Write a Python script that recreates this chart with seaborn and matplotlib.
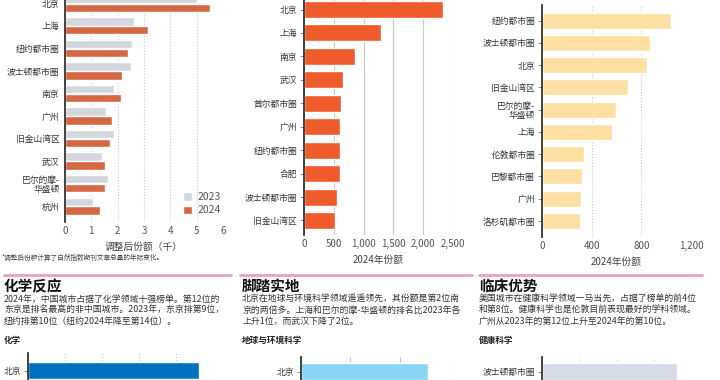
import matplotlib
matplotlib.use("Agg")
import matplotlib.pyplot as plt
import matplotlib.ticker as mticker
import pandas as pd
import seaborn as sns

# ---- data ----
adj_cities = ["北京", "上海", "纽约都市圈", "波士顿都市圈", "南京", "广州",
              "旧金山湾区", "武汉", "巴尔的摩-\n华盛顿", "杭州"]
adj_2023 = [5.0, 2.62, 2.55, 2.5, 1.87, 1.56, 1.86, 1.4, 1.63, 1.07]
adj_2024 = [5.5, 3.15, 2.38, 2.15, 2.12, 1.8, 1.7, 1.5, 1.5, 1.33]

earth_top_cities = ["北京", "上海", "南京", "武汉", "首尔都市圈", "广州",
                    "纽约都市圈", "合肥", "波士顿都市圈", "旧金山湾区"]
earth_top_share = [2330, 1290, 860, 650, 620, 610, 610, 600, 555, 525]

health_top_cities = ["纽约都市圈", "波士顿都市圈", "北京", "旧金山湾区",
                     "巴尔的摩-\n华盛顿", "上海", "伦敦都市圈", "巴黎都市圈",
                     "广州", "洛杉矶都市圈"]
health_top_share = [1040, 870, 843, 690, 595, 563, 338, 320, 318, 305]

chem_cities = ["北京"]
chem_share = [2310]
earth_cities = ["北京"]
earth_share = [515]
health_cities = ["波士顿都市圈"]
health_share = [362]

ORANGE = "#EF5B2A"
GRAY23 = "#D2D7DE"

sns.set_theme(style="white")
plt.rcParams["font.family"] = ["Noto Sans CJK SC", "DejaVu Sans"]

W, H = 720, 380
fig = plt.figure(figsize=(7.2, 3.8), dpi=100)


def px_axes(x0, y0, x1, y1):
    return fig.add_axes([x0 / W, 1 - y1 / H, (x1 - x0) / W, (y1 - y0) / H])


def px_text(x, y, s, **kw):
    fig.text(x / W, 1 - y / H, s, **kw)


def style_axes(ax, grid_ls, yticks=True):
    for side in ["top", "right", "bottom"]:
        ax.spines[side].set_visible(False)
    ax.spines["left"].set_color("#222222")
    ax.spines["left"].set_linewidth(1.2)
    ax.xaxis.grid(True, linestyle=grid_ls, color="#c8c8c8", linewidth=0.8)
    ax.yaxis.grid(False)
    ax.set_axisbelow(True)
    ax.tick_params(axis="x", length=0, labelsize=7, labelcolor="#555555", pad=3)
    ax.tick_params(axis="y", length=3 if yticks else 0, width=0.6, color="#777777",
                   labelsize=6.3, labelcolor="#333333", pad=2 if yticks else 4,
                   left=yticks)
    ax.set_ylabel("")
    for lab in ax.get_yticklabels():
        lab.set_linespacing(1.05)


# ---- top left: adjusted share 2023 vs 2024 ----
df_adj = pd.DataFrame({
    "city": adj_cities * 2,
    "value": adj_2023 + adj_2024,
    "year": ["2023"] * len(adj_cities) + ["2024"] * len(adj_cities),
})
ax1 = px_axes(65, -12.5, 223, 222)
sns.barplot(data=df_adj, y="city", x="value", hue="year", order=adj_cities,
            hue_order=["2023", "2024"], palette={"2023": GRAY23, "2024": ORANGE},
            width=0.78, gap=0.06, orient="h", ax=ax1)
ax1.set_xlim(0, 6)
ax1.set_ylim(9.71, -0.71)
ax1.set_xticks(range(0, 7))
style_axes(ax1, ":", yticks=False)
ax1.set_xlabel("调整后份额（千）", fontsize=7, color="#444444", labelpad=4)
ax1.legend(loc="lower left", bbox_to_anchor=(0.72, 0.01), frameon=False,
           fontsize=7.5, handlelength=0.9, handleheight=0.9, handletextpad=0.5,
           labelspacing=0.3, labelcolor="#555555", borderaxespad=0)

# ---- top middle: earth & environment 2024 ----
ax2 = px_axes(304, -5, 453, 235)
sns.barplot(y=earth_top_cities, x=earth_top_share, color=ORANGE, saturation=1,
            width=0.725, orient="h", ax=ax2)
ax2.set_xlim(0, 2500)
ax2.set_ylim(9.62, -0.62)
ax2.set_xticks([0, 500, 1000, 1500, 2000, 2500])
ax2.xaxis.set_major_formatter(mticker.StrMethodFormatter("{x:,.0f}"))
style_axes(ax2, "-")
ax2.set_xlabel("2024年份额", fontsize=7, color="#444444", labelpad=4)

# ---- top right: health 2024 ----
ax3 = px_axes(542, 5, 691, 237)
sns.barplot(y=health_top_cities, x=health_top_share, color="#FDDFA2", saturation=1,
            width=0.72, orient="h", ax=ax3)
ax3.set_xlim(0, 1200)
ax3.set_ylim(9.72, -0.7)
ax3.set_xticks([0, 400, 800, 1200])
ax3.xaxis.set_major_formatter(mticker.StrMethodFormatter("{x:,.0f}"))
style_axes(ax3, ":")
ax3.set_xlabel("2024年份额", fontsize=7, color="#444444", labelpad=4)

px_text(2, 258, "*调整后份额计算了自然指数期刊文章总量的年际变化。",
        fontsize=4.8, color="#444444", va="center")

# ---- bottom sections ----
PINK = "#E9A3B4"
for x0, x1 in [(4, 231), (240, 472), (479, 702)]:
    fig.add_artist(plt.Line2D([x0 / W, x1 / W], [1 - 275 / H, 1 - 275 / H],
                              color=PINK, linewidth=2))

sections = [
    (4, "化学反应",
     "2024年，中国城市占据了化学领域十强榜单。第12位的\n"
     "东京是排名最高的非中国城市。2023年，东京排第9位，\n"
     "纽约排第10位（纽约2024年降至第14位）。", "化学"),
    (242, "脚踏实地",
     "北京在地球与环境科学领域遥遥领先，其份额是第2位南\n"
     "京的两倍多。上海和巴尔的摩-华盛顿的排名比2023年各\n"
     "上升1位，而武汉下降了2位。", "地球与环境科学"),
    (479, "临床优势",
     "美国城市在健康科学领域一马当先，占据了榜单的前4位\n"
     "和第8位。健康科学也是伦敦目前表现最好的学科领域。\n"
     "广州从2023年的第12位上升至2024年的第10位。", "健康科学"),
]
for x, title, body, sub in sections:
    px_text(x, 286, title, fontsize=10.5, fontweight="bold", color="#111111",
            va="center")
    px_text(x, 295, body, fontsize=6.4, color="#333333", va="top",
            linespacing=1.25)
    px_text(x, 340, sub, fontsize=6.2, fontweight="bold", color="#222222",
            va="center")

ax4 = px_axes(28, 353, 213, 353 + 234)
sns.barplot(y=chem_cities, x=chem_share, color="#0071BC", saturation=1,
            width=0.725, orient="h", ax=ax4)
ax4.set_xlim(0, 2500)
ax4.set_ylim(9.25, -0.75)
ax4.set_xticks([0, 500, 1000, 1500, 2000, 2500])
style_axes(ax4, ":")
ax4.tick_params(axis="x", labelbottom=False)

ax5 = px_axes(301, 357, 449, 357 + 234)
sns.barplot(y=earth_cities, x=earth_share, color="#8AD4F5", saturation=1,
            width=0.725, orient="h", ax=ax5)
ax5.set_xlim(0, 600)
ax5.set_ylim(9.38, -0.62)
ax5.set_xticks([0, 200, 400, 600])
style_axes(ax5, "-")
ax5.tick_params(axis="x", labelbottom=False)

ax6 = px_axes(542, 357, 691, 357 + 234)
sns.barplot(y=health_cities, x=health_share, color="#D5DCE5", saturation=1,
            width=0.725, orient="h", ax=ax6)
ax6.set_xlim(0, 400)
ax6.set_ylim(9.38, -0.62)
ax6.set_xticks([0, 100, 200, 300, 400])
style_axes(ax6, ":")
ax6.tick_params(axis="x", labelbottom=False)

for ax in [ax1, ax2, ax3, ax4, ax5, ax6]:
    ax.set_ylabel("")
    if ax not in (ax1, ax2, ax3):
        ax.set_xlabel("")

fig.savefig("out.png", dpi=100)
